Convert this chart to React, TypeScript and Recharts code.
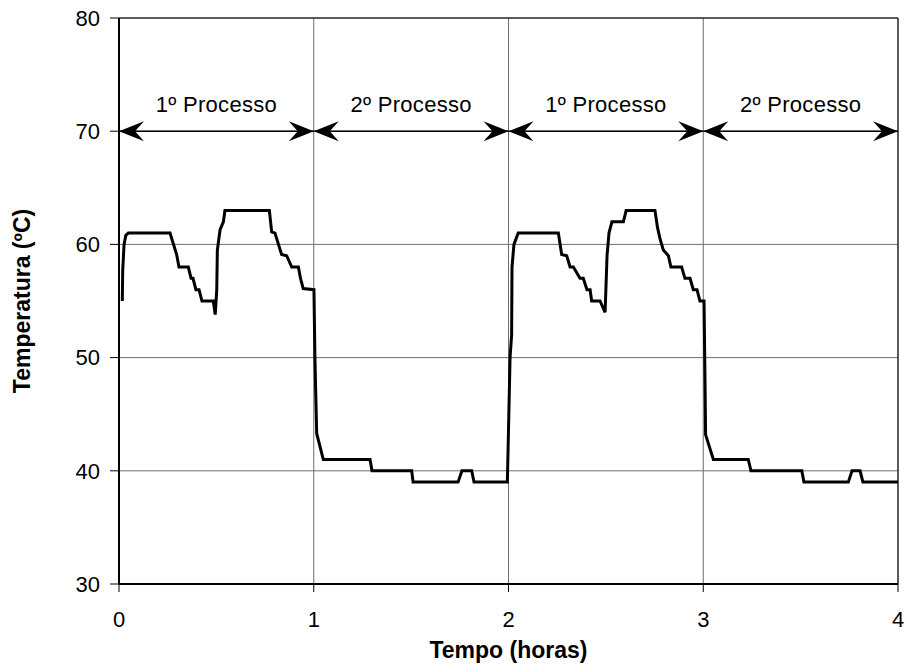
import React from 'react';
import { LineChart, Line, XAxis, YAxis, CartesianGrid, ReferenceLine } from 'recharts';

const times = [
  0.017, 0.019, 0.026, 0.035, 0.048, 0.262, 0.296, 0.308, 0.356, 0.37, 0.38, 0.395, 0.411, 0.426, 0.484, 0.494,
  0.502, 0.505, 0.519, 0.536, 0.544, 0.772, 0.784, 0.801, 0.835, 0.861, 0.887, 0.921, 0.932, 0.946, 1.001,
  1.006, 1.015, 1.049, 1.289, 1.299, 1.503, 1.51, 1.741, 1.761, 1.811, 1.823, 1.994, 1.998, 2.008, 2.016,
  2.018, 2.028, 2.05, 2.256, 2.273, 2.299, 2.316, 2.333, 2.367, 2.384, 2.403, 2.419, 2.427, 2.47, 2.496,
  2.506, 2.516, 2.531, 2.59, 2.604, 2.752, 2.765, 2.778, 2.795, 2.821, 2.834, 2.846, 2.889, 2.906, 2.932, 2.949, 2.968,
  2.983, 3.004, 3.009, 3.012, 3.052, 3.231, 3.245, 3.506, 3.517, 3.745, 3.764, 3.805, 3.82, 4.0,
];
const temps = [
  55, 57.7, 60, 60.8, 61, 61, 59.1, 58, 58, 57, 57, 56, 56, 55, 55, 53.8,
  56, 59.5, 61.3, 62, 63, 63, 61.1, 61, 59.1, 59, 58, 58, 57, 56.1, 56,
  50, 43.3, 41, 41, 40, 40, 39, 39, 40, 40, 39, 39, 42, 50, 52,
  58, 60, 61, 61, 59.1, 59, 58, 58, 57, 57, 56, 56, 55, 55, 54,
  59, 61, 62, 62, 63, 63, 61.5, 60.5, 59.5, 59, 58, 58, 58, 57, 57, 56, 56,
  55, 55, 48, 43.2, 41, 41, 40, 40, 39, 39, 40, 40, 39, 39,
];

const xTicks = [0, 1, 2, 3, 4];
const yTicks = [30, 40, 50, 60, 70, 80];
const processStarts = [0, 1, 2, 3];
const processEnds = [1, 2, 3, 4];
const processLabels = ['1º Processo', '2º Processo', '1º Processo', '2º Processo'];
const arrowLevel = 70;

const data = times.map((t, i) => ({ t, temp: temps[i] }));

const FONT = '"Liberation Sans", Arial, sans-serif';

function ArrowShape(props: any) {
  const { x1, y1, x2, y2, label } = props;
  const L = 25;
  const H = 10;
  const N = 16;
  return (
    <g>
      <line x1={x1} y1={y1} x2={x2} y2={y2} stroke="#000" strokeWidth={1.5} />
      <polygon points={`${x1},${y1} ${x1 + L},${y1 - H} ${x1 + N},${y1} ${x1 + L},${y1 + H}`} fill="#000" />
      <polygon points={`${x2},${y2} ${x2 - L},${y2 - H} ${x2 - N},${y2} ${x2 - L},${y2 + H}`} fill="#000" />
      <text x={(x1 + x2) / 2} y={y1 - 19} textAnchor="middle" fontFamily={FONT} fontSize={22} letterSpacing={0.3} fill="#000">
        {label}
      </text>
    </g>
  );
}

export default function App() {
  return (
    <div style={{ position: 'absolute', left: 0, top: 0, background: '#fff' }}>
      <LineChart width={907} height={672} data={data} margin={{ top: 18, right: 9, bottom: 0, left: 0 }}>
        <CartesianGrid stroke="#6e6e6e" strokeWidth={1} />
        <XAxis
          dataKey="t"
          type="number"
          domain={[0, 4]}
          ticks={xTicks}
          height={88}
          axisLine={{ stroke: '#000', strokeWidth: 2 }}
          tickLine={{ stroke: '#000', strokeWidth: 1 }}
          tickSize={8}
          tickMargin={19}
          tick={{ fill: '#000', fontSize: 22, fontFamily: FONT }}
          label={{ value: 'Tempo (horas)', position: 'insideBottom', offset: 14, fill: '#000', fontSize: 23, fontWeight: 'bold', fontFamily: FONT }}
        />
        <YAxis
          type="number"
          domain={[30, 80]}
          ticks={yTicks}
          width={119}
          axisLine={{ stroke: '#000', strokeWidth: 2 }}
          tickLine={{ stroke: '#000', strokeWidth: 1 }}
          tickSize={9}
          tickMargin={10}
          tick={{ fill: '#000', fontSize: 22, fontFamily: FONT }}
          label={{ value: 'Temperatura (ºC)', angle: -90, position: 'insideLeft', offset: 22, fill: '#000', fontSize: 23, fontWeight: 'bold', fontFamily: FONT, style: { textAnchor: 'middle' } }}
        />
        <ReferenceLine y={80} stroke="#000" strokeWidth={1} />
        <ReferenceLine x={4} stroke="#000" strokeWidth={1} />
        {processStarts.map((s, i) => (
          <ReferenceLine
            key={i}
            segment={[{ x: s, y: arrowLevel }, { x: processEnds[i], y: arrowLevel }]}
            shape={(p: any) => <ArrowShape {...p} label={processLabels[i]} />}
          />
        ))}
        <Line type="linear" dataKey="temp" stroke="#000" strokeWidth={3} dot={false} isAnimationActive={false} />
      </LineChart>
    </div>
  );
}
